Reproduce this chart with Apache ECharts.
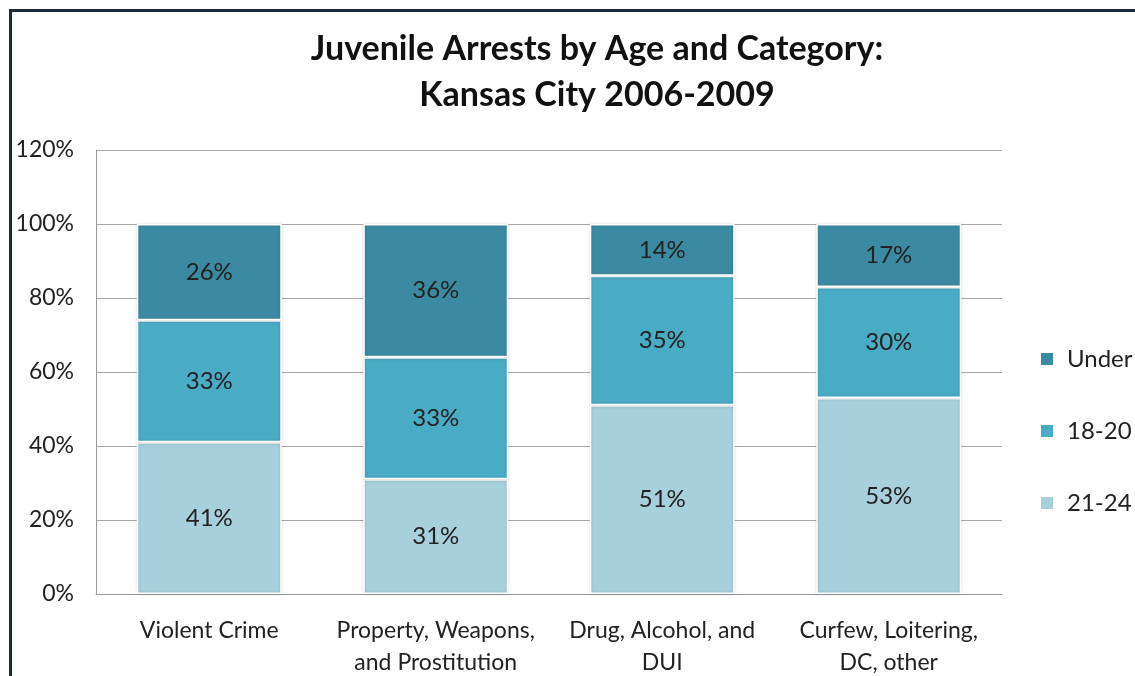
<!DOCTYPE html>
<html>
<head>
<meta charset="utf-8">
<script src="https://cdn.jsdelivr.net/npm/echarts@6/dist/echarts.min.js"></script>
<style>
  html, body { margin: 0; padding: 0; background: #fff; }
  #chart { width: 1135px; height: 676px; }
  .frame {
    position: absolute;
    left: 9px;
    top: 9px;
    width: 1140px;
    height: 700px;
    border-left: 3px solid #1c2a3a;
    border-top: 3px solid #1c2a3a;
    pointer-events: none;
  }
</style>
</head>
<body>
<div id="chart"></div>
<div class="frame"></div>
<script>
const categories = [
  'Violent Crime',
  'Property, Weapons,\nand Prostitution',
  'Drug, Alcohol, and\nDUI',
  'Curfew, Loitering,\nDC, other'
]
const age2124 = [41, 31, 51, 53]
const age1820 = [33, 33, 35, 30]
const ageUnder = [26, 36, 14, 17]
const yTicks = [0, 20, 40, 60, 80, 100, 120]

const font = 'Lato, "Open Sans", sans-serif'

function makeSeries(name, data, color) {
  return {
    name,
    type: 'bar',
    stack: 'total',
    data,
    barWidth: '64%',
    itemStyle: {
      color,
      borderColor: '#ffffff',
      borderWidth: 1.5,
      shadowColor: 'rgba(0, 0, 0, 0.18)',
      shadowBlur: 3
    },
    label: {
      show: true,
      position: 'inside',
      formatter: (p) => p.value + '%',
      color: '#222',
      fontFamily: font,
      fontSize: 24
    }
  }
}

const chart = echarts.init(document.getElementById('chart'), null, { renderer: 'canvas' })
chart.setOption({
  animation: false,
  title: {
    text: 'Juvenile Arrests by Age and Category:\nKansas City 2006-2009',
    left: 592,
    top: 21,
    textAlign: 'center',
    textStyle: {
      fontFamily: font,
      fontWeight: 'bold',
      fontSize: 34,
      lineHeight: 46,
      color: '#111'
    }
  },
  legend: {
    orient: 'vertical',
    left: 1034,
    top: 342,
    itemWidth: 14,
    itemHeight: 14,
    itemGap: 48,
    icon: 'rect',
    data: ['Under', '18-20', '21-24'],
    textStyle: {
      fontFamily: font,
      fontSize: 24,
      color: '#222',
      padding: [0, 0, 0, 8]
    }
  },
  grid: {
    left: 96,
    right: 133,
    top: 150,
    bottom: 82,
    outerBoundsMode: 'none'
  },
  xAxis: {
    type: 'category',
    data: categories,
    axisTick: { show: false },
    axisLine: { lineStyle: { color: '#9a9a9a', width: 1 } },
    axisLabel: {
      color: '#222',
      fontFamily: font,
      fontSize: 23,
      lineHeight: 32,
      margin: 21,
      interval: 0
    }
  },
  yAxis: {
    type: 'value',
    min: yTicks[0],
    max: yTicks[yTicks.length - 1],
    interval: 20,
    axisLine: { show: true, lineStyle: { color: '#9a9a9a', width: 1 } },
    axisTick: { show: false },
    axisLabel: {
      color: '#222',
      fontFamily: font,
      fontSize: 23,
      margin: 22,
      formatter: (v) => v + '%'
    },
    splitLine: { lineStyle: { color: '#a6a6a6', width: 1 } }
  },
  series: [
    makeSeries('21-24', age2124, '#a8cfdc'),
    makeSeries('18-20', age1820, '#4aabc5'),
    makeSeries('Under', ageUnder, '#3c8aa1')
  ]
})
</script>
</body>
</html>
